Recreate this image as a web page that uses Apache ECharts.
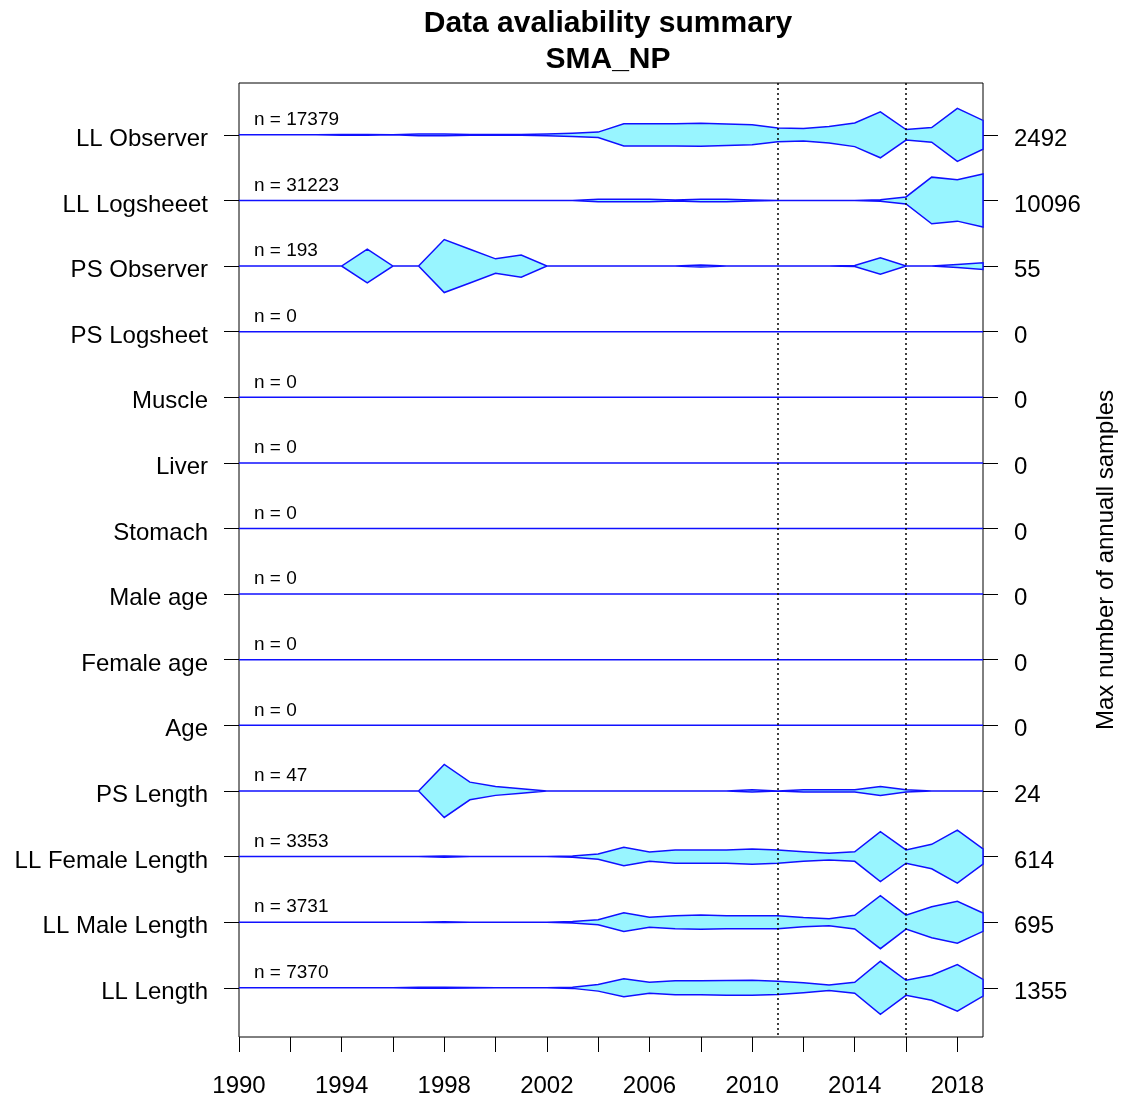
<!DOCTYPE html>
<html><head><meta charset="utf-8">
<script src="https://cdn.jsdelivr.net/npm/echarts@6/dist/echarts.min.js"></script>
<style>html,body{margin:0;padding:0;background:#fff}#c{width:1123px;height:1099px}</style>
</head><body><div id="c"></div>
<script>
const years = [1990,1991,1992,1993,1994,1995,1996,1997,1998,1999,2000,2001,2002,2003,2004,2005,2006,2007,2008,2009,2010,2011,2012,2013,2014,2015,2016,2017,2018,2019];
const rowNames = ['LL Observer','LL Logsheeet','PS Observer','PS Logsheet','Muscle','Liver','Stomach','Male age','Female age','Age','PS Length','LL Female Length','LL Male Length','LL Length'];
const nLabels = [17379,31223,193,0,0,0,0,0,0,0,47,3353,3731,7370];
const xTickYears = [1990,1992,1994,1996,1998,2000,2002,2004,2006,2008,2010,2012,2014,2016,2018];
const xLabelYears = [1990,1994,1998,2002,2006,2010,2014,2018];
const vlines = [2011, 2016];

const llObserver     = [0,0,0,0,40,40,0,90,90,40, 40,40,90,150,255,1040,1040,1040,1080,1010, 940,644,587,777,1108,2159,492,691,2492,1354];
const llLogsheet     = [0,0,0,0,0,0,0,0,0,0, 0,0,0,0,500,500,500,200,500,500, 200,0,0,0,0,300,1333,8880,7880,10096];
const psObserver     = [0,0,0,0,0,35,0,0,55,35, 15,23,0,0,0,0,0,0,2,0, 0,0,0,0,1,17,0,0,3,7];
const psLogsheet     = [0,0,0,0,0,0,0,0,0,0, 0,0,0,0,0,0,0,0,0,0, 0,0,0,0,0,0,0,0,0,0];
const muscle         = [0,0,0,0,0,0,0,0,0,0, 0,0,0,0,0,0,0,0,0,0, 0,0,0,0,0,0,0,0,0,0];
const liver          = [0,0,0,0,0,0,0,0,0,0, 0,0,0,0,0,0,0,0,0,0, 0,0,0,0,0,0,0,0,0,0];
const stomach        = [0,0,0,0,0,0,0,0,0,0, 0,0,0,0,0,0,0,0,0,0, 0,0,0,0,0,0,0,0,0,0];
const maleAge        = [0,0,0,0,0,0,0,0,0,0, 0,0,0,0,0,0,0,0,0,0, 0,0,0,0,0,0,0,0,0,0];
const femaleAge      = [0,0,0,0,0,0,0,0,0,0, 0,0,0,0,0,0,0,0,0,0, 0,0,0,0,0,0,0,0,0,0];
const age            = [0,0,0,0,0,0,0,0,0,0, 0,0,0,0,0,0,0,0,0,0, 0,0,0,0,0,0,0,0,0,0];
const psLength       = [0,0,0,0,0,0,0,0,24,8, 4,2,0,0,0,0,0,0,0,0, 1,0,1,1,1,4,1,0,0,0];
const llFemaleLength = [0,0,0,0,0,0,0,0,15,0, 0,0,0,15,60,215,108,154,154,154, 177,154,111,77,111,579,154,284,614,177];
const llMaleLength   = [0,0,0,0,0,0,0,0,10,0, 0,0,0,20,65,245,131,170,185,170, 170,170,122,92,179,695,183,406,550,240];
const llLength       = [0,0,0,0,0,0,0,25,25,10, 0,0,0,30,170,460,280,357,357,375, 383,340,255,145,280,1355,383,640,1190,425];

const rowValues = [llObserver, llLogsheet, psObserver, psLogsheet, muscle, liver, stomach, maleAge, femaleAge, age, psLength, llFemaleLength, llMaleLength, llLength];
const maxLabels = rowValues.map(r => Math.max.apply(null, r));
const rowIdx = rowNames.map((_, i) => i);

const FONT = '"Liberation Sans", Arial, sans-serif';
const chart = echarts.init(document.getElementById('c'), null, {renderer: 'canvas'});

const yBase = {
  type: 'value', inverse: true, min: -0.79, max: 13.75,
  splitLine: {show: false}, axisLine: {show: false, onZero: false},
  axisTick: {show: true, length: 15, lineStyle: {color: '#000', width: 1}, customValues: rowIdx}
};
const richLab = {a: {fontSize: 24, color: '#000', fontFamily: FONT, padding: [9, 0, 0, 0]}};

const option = {
  animation: false,
  backgroundColor: '#fff',
  title: {
    text: 'Data avaliability summary\nSMA_NP', left: 608, top: 6, textAlign: 'center', padding: 0,
    textStyle: {fontFamily: FONT, fontSize: 30, fontWeight: 'bold', color: '#000', lineHeight: 36}
  },
  grid: {left: 239, right: 140, top: 83, bottom: 62, show: true, borderColor: '#000', borderWidth: 1,
         backgroundColor: 'transparent', containLabel: false, outerBoundsMode: 'none'},
  xAxis: {
    type: 'value', min: 1990, max: 2019, position: 'bottom',
    splitLine: {show: false}, axisLine: {show: false, onZero: false},
    axisTick: {show: true, length: 15, lineStyle: {color: '#000', width: 1}, customValues: xTickYears},
    axisLabel: {customValues: xLabelYears, margin: 37, fontSize: 24, color: '#000', fontFamily: FONT, formatter: v => String(v)}
  },
  yAxis: [
    Object.assign({}, yBase, {
      position: 'left',
      axisLabel: {customValues: rowIdx, margin: 31, fontSize: 24, color: '#000', fontFamily: FONT, rich: richLab, formatter: v => '{a|' + rowNames[v] + '}'}
    }),
    Object.assign({}, yBase, {
      position: 'right',
      axisLabel: {customValues: rowIdx, margin: 31, fontSize: 24, color: '#000', fontFamily: FONT, rich: richLab, formatter: v => '{a|' + maxLabels[v] + '}'},
      name: 'Max number of annuall samples', nameLocation: 'middle', nameRotate: 90, nameGap: 111,
      nameTextStyle: {fontSize: 24, color: '#000', fontFamily: FONT}
    })
  ],
  series: [
    {
      type: 'custom', coordinateSystem: 'cartesian2d', xAxisIndex: 0, yAxisIndex: 0,
      data: rowIdx.map(i => [1990, i]), encode: {x: 0, y: 1}, z: 2,
      renderItem: (params, api) => {
        const i = api.value(1);
        const vals = rowValues[i];
        const m = maxLabels[i];
        const hMax = api.size([0, 1])[1] * 0.404;
        const top = [], bot = [];
        years.forEach((yr, k) => {
          const p = api.coord([yr, i]);
          const h = m > 0 ? vals[k] / m * hMax : 0;
          top.push([p[0], p[1] - h]);
          bot.push([p[0], p[1] + h]);
        });
        const pts = top.concat(bot.reverse());
        const o = api.coord([1990, i]);
        return {type: 'group', children: [
          {type: 'polygon', shape: {points: pts}, style: {fill: '#98F5FF', stroke: '#1010FF', lineWidth: 1.5}},
          {type: 'text', x: o[0] + 15, y: o[1] - 15, style: {text: 'n = ' + nLabels[i], fontSize: 19, fontFamily: FONT, fill: '#000', align: 'left', verticalAlign: 'middle'}}
        ]};
      }
    },
    {
      type: 'line', data: [], z: 5, xAxisIndex: 0, yAxisIndex: 0,
      markLine: {
        silent: true, symbol: ['none', 'none'], label: {show: false},
        lineStyle: {color: '#000', type: [2, 3], width: 1.5},
        data: vlines.map(v => ({xAxis: v}))
      }
    }
  ]
};
chart.setOption(option);
</script></body></html>
